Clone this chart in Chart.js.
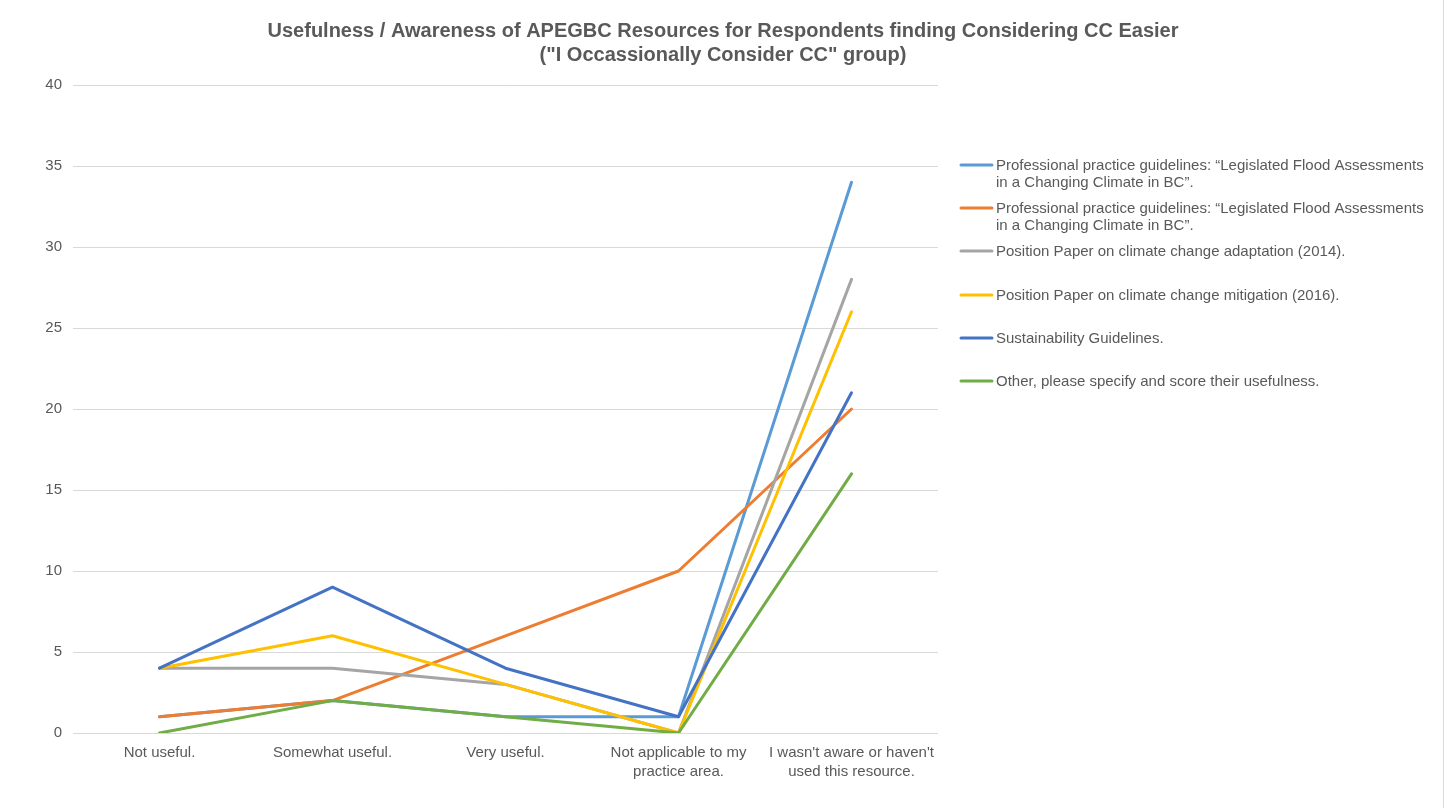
<!DOCTYPE html>
<html><head><meta charset="utf-8">
<script src="https://cdn.jsdelivr.net/npm/chart.js@4"></script>
<style>html,body{margin:0;padding:0;background:#fff;}#wrap{width:1447px;height:808px;position:relative;}</style>
</head><body><div id="wrap"><canvas id="c" width="1447" height="808"></canvas></div>
<script>
const titleLines = ['Usefulness / Awareness of APEGBC Resources for Respondents finding Considering CC Easier', '("I Occassionally Consider CC" group)'];
const categories = [['Not useful.'], ['Somewhat useful.'], ['Very useful.'], ['Not applicable to my', 'practice area.'], ["I wasn't aware or haven't", 'used this resource.']];
const seriesNames = [
  ['Professional practice guidelines: \u201CLegislated Flood Assessments', 'in a Changing Climate in BC\u201D.'],
  ['Professional practice guidelines: \u201CLegislated Flood Assessments', 'in a Changing Climate in BC\u201D.'],
  ['Position Paper on climate change adaptation (2014).'],
  ['Position Paper on climate change mitigation (2016).'],
  ['Sustainability Guidelines.'],
  ['Other, please specify and score their usefulness.']
];
const floodGuidelinesA = [1, 2, 1, 1, 34];
const floodGuidelinesB = [1, 2, 6, 10, 20];
const adaptationPaper = [4, 4, 3, 0, 28];
const mitigationPaper = [4, 6, 3, 0, 26];
const sustainability = [4, 9, 4, 1, 21];
const other = [0, 2, 1, 0, 16];
const yTicks = [0, 5, 10, 15, 20, 25, 30, 35, 40];

const colors = ['#5B9BD5', '#ED7D31', '#A5A5A5', '#FFC000', '#4472C4', '#70AD47'];
const seriesData = [floodGuidelinesA, floodGuidelinesB, adaptationPaper, mitigationPaper, sustainability, other];
const FONT = '"Liberation Sans", Arial, sans-serif';
const TXT = '#595959';

const legendPlugin = {
  id: 'customLegend',
  afterDraw(chart) {
    const ctx = chart.ctx;
    ctx.save();
    ctx.fillStyle = TXT;
    ctx.font = 'bold 20px ' + FONT;
    ctx.textAlign = 'center';
    ctx.textBaseline = 'middle';
    ctx.fillText(titleLines[0], 723, 31);
    ctx.fillText(titleLines[1], 723, 55);
    const ys = [165, 208, 251, 295, 338, 381];
    ctx.font = '15px ' + FONT;
    ctx.textAlign = 'left';
    seriesNames.forEach((lines, i) => {
      const y = ys[i];
      ctx.strokeStyle = colors[i];
      ctx.lineWidth = 3;
      ctx.lineCap = 'round';
      ctx.beginPath();
      ctx.moveTo(961, y);
      ctx.lineTo(992, y);
      ctx.stroke();
      ctx.fillStyle = TXT;
      lines.forEach((t, k) => ctx.fillText(t, 996, y + 1 + k * 17));
    });
    ctx.strokeStyle = '#D9D9D9';
    ctx.lineWidth = 1;
    ctx.beginPath();
    ctx.moveTo(1443.5, 0);
    ctx.lineTo(1443.5, 808);
    ctx.stroke();
    ctx.restore();
  }
};

new Chart(document.getElementById('c'), {
  type: 'line',
  data: {
    labels: categories,
    datasets: seriesData.map((d, i) => ({
      label: seriesNames[i].join(' '),
      data: d,
      borderColor: colors[i],
      backgroundColor: colors[i],
      borderWidth: 3,
      pointRadius: 0,
      tension: 0,
      order: 10 - i,
      borderCapStyle: 'round',
      borderJoinStyle: 'round'
    }))
  },
  options: {
    responsive: false,
    animation: false,
    layout: { padding: { top: 85, right: 509, left: 0, bottom: 0 } },
    plugins: { legend: { display: false }, title: { display: false }, tooltip: { enabled: false } },
    scales: {
      x: {
        offset: true,
        grid: { display: false, drawTicks: false },
        border: { display: false },
        ticks: { color: TXT, font: { family: FONT, size: 15, lineHeight: 1.27 }, padding: 10, maxRotation: 0, autoSkip: false },
        afterFit(s) { s.height = 75; }
      },
      y: {
        min: 0, max: 40,
        afterBuildTicks(s) { s.ticks = yTicks.map(v => ({ value: v })); },
        grid: { color: '#D9D9D9', lineWidth: 1, drawTicks: false },
        border: { display: false },
        ticks: { color: TXT, font: { family: FONT, size: 15 }, padding: 11 },
        afterFit(s) { s.width = 73; }
      }
    }
  },
  plugins: [legendPlugin]
});
</script></body></html>
